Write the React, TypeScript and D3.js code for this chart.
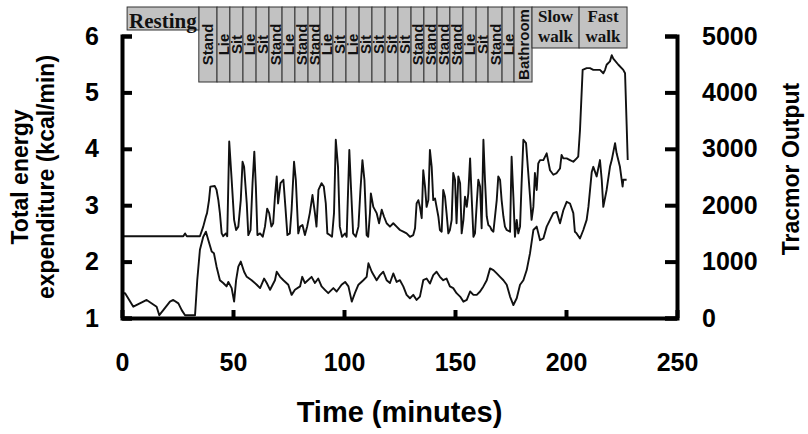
// App.tsx - energy expenditure vs Tracmor output over a protocol of activities
import React, { useEffect, useRef } from 'react';
import * as d3 from 'd3';

// --- Data ---
// Total energy expenditure (kcal/min), left axis
const eeTime = [0, 1.4, 5.1, 9.6, 11.1, 15.6, 16.8, 18.6, 21.6, 23.1, 25.4, 26.9, 28.4, 31.4, 32.9, 33.9, 35.1, 36.6, 37.8, 38.9, 40.4, 41.4, 42.6, 44.1, 45.6, 47.1, 47.9, 49.4, 50.5, 51.4, 52.4, 53.5, 55.0, 56.2, 58.4, 60.7, 62.2, 64.0, 65.2, 66.7, 68.9, 69.7, 71.2, 72.7, 74.9, 76.4, 77.9, 80.2, 81.2, 82.4, 85.4, 86.9, 88.4, 89.9, 91.4, 92.9, 95.2, 96.7, 98.9, 100.5, 102.0, 103.5, 104.9, 106.5, 108.7, 110.2, 111.0, 112.5, 114.7, 116.2, 117.7, 119.2, 120.7, 122.2, 123.7, 125.2, 126.7, 128.2, 129.7, 131.2, 132.7, 134.2, 135.7, 137.2, 138.7, 140.2, 141.7, 143.2, 144.7, 146.2, 147.7, 149.2, 150.7, 152.3, 153.8, 155.3, 156.8, 158.3, 159.8, 161.3, 162.8, 164.3, 165.8, 167.3, 168.8, 170.3, 171.8, 173.3, 174.8, 176.3, 177.8, 179.3, 180.8, 182.3, 183.8, 185.3, 186.8, 188.3, 189.8, 191.3, 192.8, 194.3, 195.8, 197.3, 198.8, 200.3, 201.8, 203.3, 204.0, 204.8, 206.3, 207.8, 209.3, 210.1, 211.6, 212.3, 213.8, 215.3, 216.1, 216.8, 218.3, 219.8, 220.6, 222.1, 222.8, 224.3, 225.5, 225.8, 227.3];
const eeValue = [1.44, 1.44, 1.20, 1.29, 1.32, 1.20, 1.05, 1.14, 1.29, 1.32, 1.26, 1.14, 1.05, 1.05, 1.05, 1.67, 2.21, 2.44, 2.53, 2.38, 2.18, 2.15, 1.91, 1.67, 1.62, 1.56, 1.64, 1.53, 1.29, 1.67, 1.91, 2.00, 1.82, 1.73, 1.67, 1.59, 1.53, 1.70, 1.62, 1.50, 1.67, 1.82, 1.73, 1.67, 1.59, 1.41, 1.50, 1.56, 1.73, 1.62, 1.73, 1.62, 1.70, 1.56, 1.50, 1.44, 1.53, 1.47, 1.59, 1.64, 1.56, 1.29, 1.44, 1.59, 1.67, 1.73, 1.97, 1.82, 1.67, 1.76, 1.82, 1.67, 1.62, 1.79, 1.64, 1.67, 1.56, 1.41, 1.35, 1.41, 1.32, 1.38, 1.67, 1.70, 1.61, 1.76, 1.82, 1.73, 1.67, 1.70, 1.56, 1.53, 1.44, 1.38, 1.29, 1.32, 1.47, 1.41, 1.41, 1.47, 1.56, 1.67, 1.88, 1.85, 1.79, 1.73, 1.67, 1.59, 1.38, 1.23, 1.35, 1.59, 1.67, 1.85, 2.15, 2.56, 2.62, 2.38, 2.41, 2.62, 2.74, 2.86, 2.88, 2.68, 2.91, 3.06, 3.03, 2.86, 2.53, 2.50, 2.41, 2.56, 2.74, 2.97, 3.59, 3.68, 3.51, 3.80, 3.45, 2.97, 3.27, 3.68, 3.80, 4.10, 3.92, 3.68, 3.33, 3.45, 3.45];

// Tracmor output (counts), right axis
const tracTime = [0, 27.6, 28.4, 29.2, 35.1, 36.6, 37.8, 38.3, 39.2, 39.8, 41.8, 42.6, 43.4, 44.1, 44.9, 45.6, 46.8, 47.4, 48.3, 49.4, 50.5, 51.4, 52.4, 53.5, 54.3, 55.0, 56.2, 56.9, 57.9, 58.8, 59.6, 60.3, 61.0, 62.2, 63.4, 64.4, 65.4, 66.3, 67.3, 68.1, 68.9, 69.7, 70.3, 71.4, 72.7, 73.6, 74.5, 75.6, 76.4, 77.5, 78.3, 79.4, 80.2, 81.3, 82.4, 83.4, 84.6, 85.8, 86.9, 87.6, 88.5, 89.9, 90.9, 91.8, 92.5, 93.6, 94.6, 95.5, 96.3, 97.3, 98.1, 99.1, 100.5, 101.2, 102.4, 103.2, 104.1, 105.3, 106.5, 107.4, 108.3, 109.2, 110.2, 110.9, 111.7, 112.1, 113.2, 114.7, 115.8, 117.0, 118.0, 119.2, 120.7, 122.2, 123.7, 125.2, 126.7, 128.2, 129.7, 131.2, 132.0, 132.7, 133.5, 134.2, 135.0, 135.7, 136.5, 137.2, 138.0, 138.7, 139.5, 140.2, 141.0, 141.7, 142.5, 143.2, 144.0, 144.7, 145.5, 146.2, 147.0, 147.7, 148.5, 149.2, 150.0, 150.7, 151.5, 152.3, 153.0, 153.8, 154.5, 155.3, 156.0, 156.8, 157.5, 158.3, 159.0, 159.8, 160.5, 161.3, 162.0, 162.8, 163.5, 164.3, 165.0, 165.8, 166.5, 167.3, 168.8, 169.5, 170.3, 171.0, 171.8, 172.5, 173.3, 174.8, 175.5, 176.3, 177.0, 177.8, 178.5, 179.3, 180.0, 180.8, 182.0, 183.0, 183.8, 184.5, 185.3, 186.0, 186.8, 187.5, 188.3, 189.8, 191.3, 192.8, 194.3, 195.8, 197.3, 198.0, 198.8, 200.3, 201.8, 203.3, 204.8, 205.5, 206.3, 207.5, 209.3, 210.8, 212.3, 215.3, 216.8, 217.6, 218.3, 219.8, 220.6, 221.3, 223.6, 225.8, 226.6, 227.3, 227.8];
const tracValue = [1450, 1450, 1500, 1450, 1450, 1620, 1800, 1860, 2090, 2330, 2340, 2270, 2090, 1860, 1500, 1450, 1500, 1450, 3130, 2450, 1740, 1560, 1620, 2090, 2770, 2680, 2030, 1470, 1560, 2390, 2950, 2330, 1470, 1500, 1440, 1620, 1940, 1860, 1620, 1680, 2150, 2510, 2030, 2390, 2450, 1970, 1470, 1500, 1920, 2770, 2450, 1500, 1620, 1650, 1470, 1620, 1860, 2180, 1860, 1620, 2270, 2390, 2330, 2030, 1500, 1470, 1440, 1860, 3160, 2680, 1620, 1440, 1500, 1440, 2980, 2270, 1500, 1440, 1620, 2270, 2800, 2450, 1470, 1440, 1860, 2210, 1970, 1860, 1680, 1920, 1800, 1680, 1620, 1680, 1620, 1560, 1530, 1500, 1440, 1470, 1590, 2030, 2090, 1970, 1770, 2620, 2330, 1970, 2090, 2980, 2680, 2090, 2120, 1970, 1800, 1560, 1530, 2270, 2150, 1860, 1500, 1560, 1740, 2570, 2450, 1680, 2510, 2390, 1500, 1740, 2150, 1970, 2210, 2830, 2150, 1440, 1500, 2030, 2450, 2330, 1590, 3160, 2450, 1800, 1650, 1620, 1560, 1530, 2090, 2510, 2450, 2090, 1800, 1620, 1560, 1530, 2860, 2150, 1440, 1740, 1500, 1620, 2390, 3160, 3100, 2570, 2150, 1740, 1970, 2570, 2270, 2740, 2800, 2800, 2920, 2620, 2540, 2570, 2650, 2890, 2830, 2830, 2800, 2770, 2830, 2860, 3330, 4400, 4430, 4430, 4400, 4400, 4340, 4400, 4490, 4550, 4660, 4600, 4490, 4400, 4340, 3450, 2800];

// Activity protocol (minutes)
const stepLabels = ['Stand', 'Lie', 'Sit', 'Lie', 'Sit', 'Stand', 'Lie', 'Stand', 'Stand', 'Lie', 'Sit', 'Lie', 'Sit', 'Sit', 'Sit', 'Sit', 'Stand', 'Stand', 'Stand', 'Stand', 'Lie', 'Sit', 'Stand', 'Lie', 'Bathroom'];
const stepBounds = [34.6, 42.8, 48.6, 54.5, 60.4, 66.2, 72.1, 77.9, 83.8, 89.2, 95.0, 100.9, 106.8, 112.6, 118.5, 124.3, 130.2, 136.0, 141.9, 147.7, 153.6, 159.5, 164.9, 171.2, 176.6, 184.7];
const phaseLabels = [['Resting'], ['Slow', 'walk'], ['Fast', 'walk']];
const phaseStart = [2.3, 184.7, 205.9];
const phaseEnd = [34.6, 205.9, 227.5];

const xTicks = [0, 50, 100, 150, 200, 250];
const leftTicks = [1, 2, 3, 4, 5, 6];
const rightTicks = [0, 1000, 2000, 3000, 4000, 5000];

const SANS = '"Liberation Sans", Arial, Helvetica, sans-serif';
const SERIF = '"Liberation Serif", "Times New Roman", serif';

function App() {
  const svgRef = useRef<SVGSVGElement>(null);
  const W = 808, H = 434;
  const plot = { left: 122, right: 677, top: 36, bottom: 318 };

  useEffect(() => {
    if (!svgRef.current) return;
    const svg = d3.select(svgRef.current);
    svg.selectAll('*').remove();

    // --- Scales ---
    const x = d3.scaleLinear().domain([0, 250]).range([plot.left, plot.right]);
    const yLeft = d3.scaleLinear().domain([1, 6]).range([plot.bottom, plot.top]);
    const yRight = d3.scaleLinear().domain([0, 5000]).range([plot.bottom, plot.top]);

    // --- Lines ---
    const eePath = d3.line<number>().x((_, i) => x(eeTime[i])).y((d) => yLeft(d))(eeValue);
    svg.append('path').attr('d', eePath).attr('fill', 'none').attr('stroke', '#111')
      .attr('stroke-width', 1.9).attr('stroke-linejoin', 'round');
    const trPath = d3.line<number>().x((_, i) => x(tracTime[i])).y((d) => yRight(d))(tracValue);
    svg.append('path').attr('d', trPath).attr('fill', 'none').attr('stroke', '#111')
      .attr('stroke-width', 1.9).attr('stroke-linejoin', 'round');

    // --- Axes ---
    const styleAxis = (g: any) => {
      g.select('.domain').attr('stroke', '#000').attr('stroke-width', 4);
      g.selectAll('.tick line').attr('stroke', '#000').attr('stroke-width', 4);
      g.selectAll('.tick text').attr('fill', '#000').style('font-family', SANS)
        .style('font-weight', 'bold').style('font-size', '25px');
    };
    svg.append('g').attr('transform', `translate(0,${plot.bottom})`)
      .call(d3.axisBottom(x).tickValues(xTicks).tickFormat(d3.format('d')).tickSizeInner(-8).tickSizeOuter(0).tickPadding(35))
      .call(styleAxis);
    svg.append('g').attr('transform', `translate(${plot.left},0)`)
      .call(d3.axisLeft(yLeft).tickValues(leftTicks).tickFormat(d3.format('d')).tickSizeInner(-10).tickSizeOuter(-10).tickPadding(23))
      .call(styleAxis);
    svg.append('g').attr('transform', `translate(${plot.right},0)`)
      .call(d3.axisRight(yRight).tickValues(rightTicks).tickFormat(d3.format('d')).tickSizeInner(-12).tickSizeOuter(-12).tickPadding(25))
      .call(styleAxis);

    // --- Activity boxes ---
    const boxes = svg.append('g');
    stepLabels.forEach((lab, i) => {
      const x0 = x(stepBounds[i]), x1 = x(stepBounds[i + 1]);
      boxes.append('rect').attr('x', x0).attr('y', 7).attr('width', x1 - x0).attr('height', 75)
        .attr('fill', '#c2c2c2').attr('stroke', '#333').attr('stroke-width', 1);
      boxes.append('text').attr('transform', `translate(${(x0 + x1) / 2},44.5) rotate(-90)`)
        .attr('text-anchor', 'middle').attr('dominant-baseline', 'central')
        .style('font-family', SANS).style('font-weight', 'bold').style('font-size', '15px')
        .attr('fill', '#111').text(lab);
    });
    phaseLabels.forEach((lines, i) => {
      const x0 = x(phaseStart[i]), x1 = x(phaseEnd[i]);
      const cx = (x0 + x1) / 2;
      const single = lines.length === 1;
      boxes.append('rect').attr('x', x0).attr('y', 7).attr('width', x1 - x0).attr('height', single ? 23 : 41)
        .attr('fill', '#c2c2c2').attr('stroke', '#333').attr('stroke-width', 1);
      lines.forEach((t, j) => {
        boxes.append('text').attr('x', cx).attr('y', single ? 27.5 : 22 + j * 19.5)
          .attr('text-anchor', 'middle').style('font-family', SERIF).style('font-weight', 'bold')
          .style('font-size', single ? '21px' : '17px').attr('fill', '#111').text(t);
      });
    });

    // --- Axis titles ---
    const cy = (plot.top + plot.bottom) / 2;
    const title = (tx: number, ty: number, rot: number, size: number, txt: string) =>
      svg.append('text').attr('transform', `translate(${tx},${ty}) rotate(${rot})`)
        .attr('text-anchor', 'middle').style('font-family', SANS).style('font-weight', 'bold')
        .style('font-size', `${size}px`).attr('fill', '#000').text(txt);
    title(28, cy, -90, 23, 'Total energy');
    title(54, cy, -90, 23, 'expenditure (kcal/min)');
    title(799, cy - 8, -90, 23, 'Tracmor Output');
    title((plot.left + plot.right) / 2, 422, 0, 29, 'Time (minutes)');
  }, []);

  return (
    <svg ref={svgRef} width={W} height={H} viewBox={`0 0 ${W} ${H}`}
      style={{ position: 'absolute', left: 0, top: 0, background: '#fff' }} />
  );
}

export default App;
